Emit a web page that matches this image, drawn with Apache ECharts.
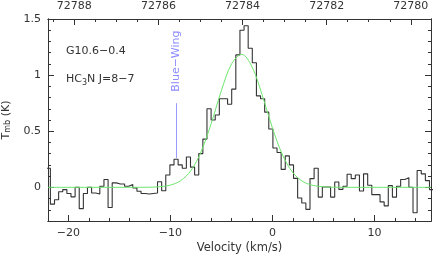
<!DOCTYPE html>
<html><head><meta charset="utf-8">
<script src="https://cdn.jsdelivr.net/npm/echarts@6/dist/echarts.min.js"></script>
<style>html,body{margin:0;padding:0;background:#fff}#c{width:436px;height:254px}</style>
</head><body><div id="c"></div>
<script>
// ---- data ----
const velStart = -22.17;      // left edge of first channel (km/s)
const chanWidth = 0.404;      // channel width (km/s)
const tmb = [
  0.17, -0.15, -0.11, -0.04, -0.02, -0.055, -0.085, 0.0, -0.19, -0.055,
  0.0, -0.05, -0.06, 0.01, 0.07, -0.18, 0.04, 0.03, 0.03, 0.01,
  0.025, -0.005, -0.035, -0.055, -0.06, -0.055, -0.05, 0.05, -0.03, 0.11,
  0.20, 0.25, 0.20, 0.17, 0.27, 0.18, 0.11, 0.30, 0.43, 0.70,
  0.60, 0.645, 0.79, 0.79, 0.74, 0.875, 1.18, 1.40, 1.44, 1.24,
  1.11, 0.815, 0.79, 0.67, 0.52, 0.35, 0.31, 0.16, 0.28, 0.20,
  0.08, -0.095, -0.14, -0.196, 0.078, 0.17, -0.087, 0.003, 0.003, -0.087,
  0.048, -0.018, 0.009, 0.116, 0.078, 0.11, -0.033, 0.12, 0.018, -0.065,
  -0.065, -0.13, -0.165, 0.015, -0.087, 0.009, 0.07, 0.085, 0.0, -0.226,
  0.15, 0.12, 0.06, -0.02
];
const fitVel = [-22, -14, -12, -11, -10, -9, -8, -7, -6, -5, -4, -3, -2, -1, 0, 1, 2, 3, 4, 5, 6, 8, 15.55];
const fitTmb = [0, 0, 0.001, 0.006, 0.02, 0.059, 0.148, 0.316, 0.569, 0.862, 1.10, 1.185, 1.074, 0.822, 0.53, 0.288, 0.132, 0.051, 0.017, 0.005, 0.001, 0, 0];
const velTicks = [-20, -10, 0, 10];
const tmbTicks = [0, 0.5, 1, 1.5];
const freqTicks = [72780, 72782, 72784, 72786, 72788];
const velRange = [-22, 15.55];
const tmbRange = [-0.3, 1.5];
const freqRange = [72779.52, 72788.625];
const wingVel = -9.4;
const wingSpan = [0.26, 0.75];
const wingLabelY = 1.125;
const sourceName = 'G10.6\u22120.4';
const lineName = 'HC{s|3}N J=8\u22127';
const wingName = 'Blue\u2212Wing';

// ---- helpers ----
const ink = '#333';
const font = 'DejaVu Sans';
const minus = v => String(v).replace('-', '\u2212');
function range(a, b, s) { const r = []; for (let v = a; v <= b + 1e-9; v += s) r.push(Math.round(v * 1000) / 1000); return r; }
const velMinor = range(-22, 15, 2);
const freqMinor = range(72780, 72788.5, 0.5);
const tmbMinor = range(-0.3, 1.5, 0.1);

const steps = [];
tmb.forEach((t, i) => {
  const x0 = velStart + i * chanWidth;
  steps.push([x0, t], [x0 + chanWidth, t]);
});
const fit = fitVel.map((v, i) => [v, fitTmb[i]]);
const wing = [[wingVel, wingSpan[0]], [wingVel, wingSpan[1]]];

const lineStyle = { color: ink, width: 1 };
function axis(pos, rng, ticks, len, labels, extra) {
  return Object.assign({
    type: 'value', position: pos, min: rng[0], max: rng[1],
    axisLine: { show: true, lineStyle: lineStyle, onZero: false },
    axisTick: { show: true, inside: true, length: len, customValues: ticks, lineStyle: lineStyle },
    axisLabel: labels ? { show: true, customValues: ticks, color: ink, fontFamily: font, fontSize: 11, margin: 7, formatter: minus } : { show: false },
    splitLine: { show: false }, minorTick: { show: false }
  }, extra || {});
}

const option = {
  animation: false,
  backgroundColor: '#fff',
  grid: { left: 48, right: 5, top: 19, bottom: 33, containLabel: false, outerBoundsMode: 'none' },
  xAxis: [
    axis('bottom', velRange, velTicks, 6, true, {
      name: 'Velocity (km/s)', nameLocation: 'middle', nameGap: 21, nameMoveOverlap: false,
      nameTextStyle: { color: ink, fontFamily: font, fontSize: 11.5 }
    }),
    axis('bottom', velRange, velMinor, 3, false),
    axis('top', freqRange, freqTicks, 6, true, { inverse: true }),
    axis('top', freqRange, freqMinor, 3, false, { inverse: true })
  ],
  yAxis: [
    axis('left', tmbRange, tmbTicks, 6, true, {
      name: '{n|T}{s|mb} {n|(K)}', nameLocation: 'middle', nameGap: 36, nameRotate: 90, nameMoveOverlap: false,
      nameTextStyle: { color: ink, fontFamily: font, fontSize: 11,
        rich: { n: { fontFamily: font, fontSize: 11, color: ink, verticalAlign: 'bottom', lineHeight: 14 },
                s: { fontFamily: font, fontSize: 8, color: ink, verticalAlign: 'bottom', lineHeight: 10 } } }
    }),
    axis('left', tmbRange, tmbMinor, 3, false),
    axis('right', tmbRange, tmbTicks, 6, false),
    axis('right', tmbRange, tmbMinor, 3, false)
  ],
  series: [
    { type: 'line', data: steps, xAxisIndex: 0, yAxisIndex: 0, symbol: 'none', clip: true,
      lineStyle: { color: '#333', width: 1.1 }, z: 3 },
    { type: 'line', data: fit, xAxisIndex: 0, yAxisIndex: 0, symbol: 'none', smooth: 0.35, clip: true,
      lineStyle: { color: '#6ee66e', width: 1 }, z: 4 },
    { type: 'line', data: wing, xAxisIndex: 0, yAxisIndex: 0, symbol: 'none',
      lineStyle: { color: '#9a9aff', width: 1 }, z: 2 }
  ]
};

const chart = echarts.init(document.getElementById('c'), null, { renderer: 'canvas' });
chart.setOption(option);
const p = chart.convertToPixel({ xAxisIndex: 0, yAxisIndex: 0 }, [wingVel, wingLabelY]);
chart.setOption({
  graphic: [
    { type: 'text', left: 66, top: 46, style: { text: sourceName, fill: ink, font: '11px "DejaVu Sans"' } },
    { type: 'text', left: 66, top: 74, style: { text: lineName, fill: ink, font: '11px "DejaVu Sans"',
        rich: { s: { fontSize: 8, fontFamily: font, fill: ink, padding: [6, 0, 0, 0] } } } },
    { type: 'text', x: p[0], y: p[1], rotation: Math.PI / 2,
      style: { text: wingName, fill: '#8c8cff', font: '11px "DejaVu Sans"', align: 'center', verticalAlign: 'middle' } }
  ]
});
</script>
</body></html>
